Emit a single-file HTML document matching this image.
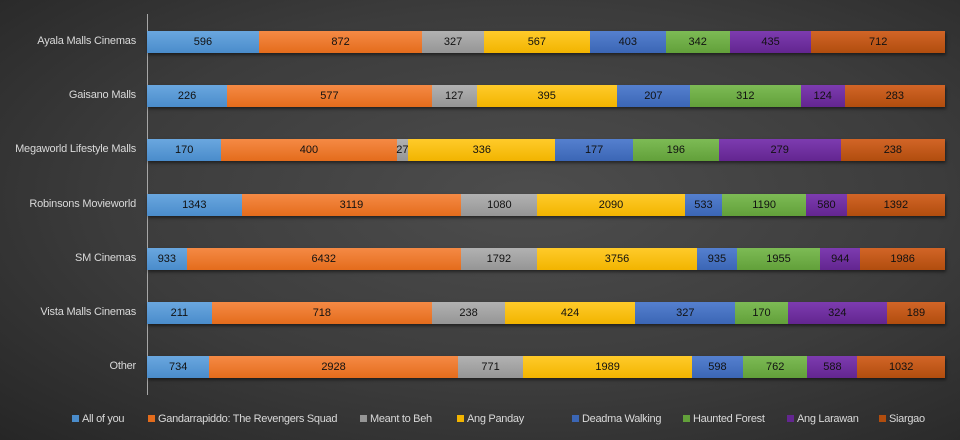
<!DOCTYPE html>
<html><head><meta charset="utf-8"><style>
body{margin:0;width:960px;height:440px;overflow:hidden;font-family:"Liberation Sans",sans-serif;}
#c{position:relative;width:960px;height:440px;background:radial-gradient(ellipse at 55% 45%,#4d4d4d 0%,#3c3c3c 55%,#262626 100%);}
.lab{position:absolute;right:824px;color:#d9d9d9;font-size:11px;letter-spacing:-0.2px;white-space:nowrap;}
.bar{position:absolute;left:147px;height:22px;width:798px;display:flex;box-shadow:1px 2px 3px rgba(0,0,0,.5);}
.seg{height:22px;display:flex;align-items:center;justify-content:center;font-size:11px;color:#111;overflow:visible;white-space:nowrap;}
.lg{position:absolute;top:413px;color:#d9d9d9;font-size:11px;letter-spacing:-0.3px;white-space:nowrap;}
.lg i{display:inline-block;width:7px;height:7px;margin-right:3px;}
</style></head><body><div id="c">
<div style="position:absolute;left:147px;top:14px;width:1px;height:381px;background:#a6a6a6"></div>
</div>
<script>
var cols=[["#6aa7df","#4a8ccb"],["#f58a45","#e46c1c"],["#b2b2b2","#959595"],["#ffcb2a","#f2b400"],["#5580cf","#3b66b5"],["#7dbb55","#62a03a"],["#7d3cb0","#632690"],["#d26527","#b14d0e"]];
var rows=[["Ayala Malls Cinemas",[596,872,327,567,403,342,435,712]],["Gaisano Malls",[226,577,127,395,207,312,124,283]],["Megaworld Lifestyle Malls",[170,400,27,336,177,196,279,238]],["Robinsons Movieworld",[1343,3119,1080,2090,533,1190,580,1392]],["SM Cinemas",[933,6432,1792,3756,935,1955,944,1986]],["Vista Malls Cinemas",[211,718,238,424,327,170,324,189]],["Other",[734,2928,771,1989,598,762,588,1032]]];
var c=document.getElementById('c'),h='';
rows.forEach(function(r,i){var y=31+i*54.2;var s=r[1].reduce(function(a,b){return a+b},0);
h+='<div class="lab" style="top:'+(y+4)+'px">'+r[0]+'</div><div class="bar" style="top:'+y+'px">';
r[1].forEach(function(v,j){h+='<div class="seg" style="width:'+(v/s*798)+'px;background:linear-gradient('+cols[j][0]+','+cols[j][1]+')">'+v+'</div>';});
h+='</div>';});
var L=[["All of you",72],["Gandarrapiddo: The Revengers Squad",148],["Meant to Beh",360],["Ang Panday",457],["Deadma Walking",572],["Haunted Forest",683],["Ang Larawan",787],["Siargao",879]];
L.forEach(function(l,j){h+='<div class="lg" style="left:'+l[1]+'px"><i style="background:'+cols[j][1]+'"></i>'+l[0]+'</div>';});
c.insertAdjacentHTML('beforeend',h);
</script>
</body></html>
